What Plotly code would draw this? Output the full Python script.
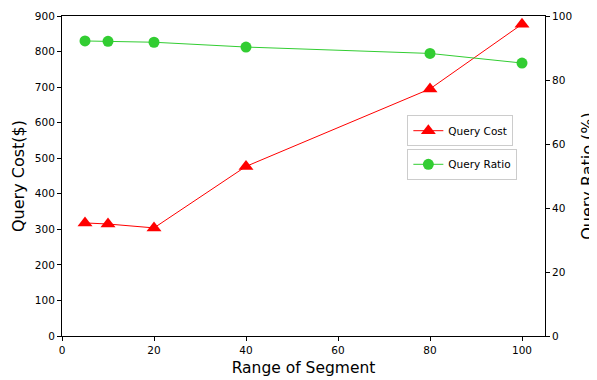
import plotly.graph_objects as go

segments = [5, 10, 20, 40, 80, 100]
query_cost = [318, 315, 304, 477, 695, 877]
query_ratio = [92.2, 92.1, 91.8, 90.3, 88.3, 85.3]

x_ticks = [0, 20, 40, 60, 80, 100]
y_ticks = [0, 100, 200, 300, 400, 500, 600, 700, 800, 900]
y2_ticks = [0, 20, 40, 60, 80, 100]

font = "DejaVu Sans"

fig = go.Figure()
fig.add_trace(go.Scatter(
    x=segments, y=query_cost, name="Query Cost", mode="lines+markers",
    line=dict(color="red", width=1),
    marker=dict(symbol="triangle-up", size=13, color="red"),
    legend="legend", showlegend=True,
))
fig.add_trace(go.Scatter(
    x=segments, y=query_ratio, name="Query Ratio", mode="lines+markers",
    line=dict(color="#32CD32", width=1),
    marker=dict(symbol="circle", size=11, color="#32CD32"),
    yaxis="y2", legend="legend2", showlegend=True,
))

axis_common = dict(
    showgrid=False, zeroline=False, showline=True, linecolor="black", linewidth=1,
    ticks="outside", ticklen=4, tickcolor="black", tickwidth=1, automargin=False,
    tickfont=dict(family=font, size=10.5, color="black"),
)

# page body has an 8px margin, so the figure is offset by 8px
fig.update_layout(
    width=589, height=372,
    margin=dict(l=54, r=52, t=8, b=44),
    plot_bgcolor="white", paper_bgcolor="white",
    font=dict(family=font, color="black"),
    showlegend=True,
    xaxis=dict(range=[0, 105], tickvals=x_ticks, mirror=True,
               title=dict(text="Range of Segment", font=dict(family=font, size=15.5), standoff=7),
               **axis_common),
    yaxis=dict(range=[0, 900], tickvals=y_ticks,
               title=dict(text="Query Cost($)", font=dict(family=font, size=16), standoff=6),
               **axis_common),
    yaxis2=dict(range=[0, 100], tickvals=y2_ticks, overlaying="y", side="right",
                title=dict(text="Query Ratio (%)", font=dict(family=font, size=16), standoff=11),
                **axis_common),
    legend=dict(x=0.715, y=0.69, xanchor="left", yanchor="top",
                bordercolor="#cccccc", borderwidth=1, bgcolor="white",
                font=dict(family=font, size=10.5), itemwidth=30),
    legend2=dict(x=0.715, y=0.585, xanchor="left", yanchor="top",
                 bordercolor="#cccccc", borderwidth=1, bgcolor="white",
                 font=dict(family=font, size=10.5), itemwidth=30),
)

fig.write_html("out.html")
